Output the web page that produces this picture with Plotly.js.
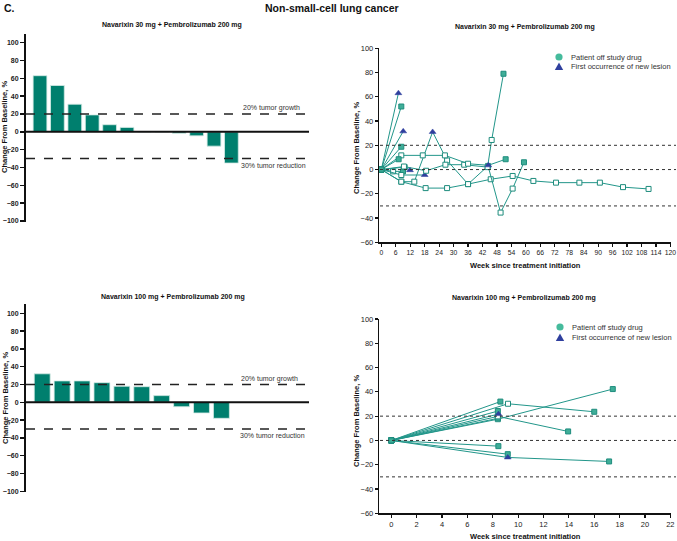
<!DOCTYPE html>
<html>
<head>
<meta charset="utf-8">
<script src="https://cdn.plot.ly/plotly-3.0.1.min.js"></script>
<style>html,body{margin:0;padding:0;background:#fff}#chart{width:677px;height:541px}</style>
</head>
<body>
<div id="chart"></div>
<script>
// ---------------- DATA ----------------
const mainTitle = "Non-small-cell lung cancer";
const panelLabel = "C.";
const title30 = "Navarixin 30 mg + Pembrolizumab 200 mg";
const title100 = "Navarixin 100 mg + Pembrolizumab 200 mg";
const yTitle = "Change From Baseline, %";
const xTitle = "Week since treatment initiation";
const legendOff = "Patient off study drug";
const legendLesion = "First occurrence of new lesion";
const growthLabel = "20% tumor growth";
const reductionLabel = "30% tumor reduction";
const growthLevel = 20;
const reductionLevel = -30;

// Waterfall: best % change per patient
const waterfall30 = [63, 52, 31, 19, 8, 5, 0, 0, -1.5, -4.5, -16, -35];
const waterfall100 = [32, 24, 24, 22, 18, 17.5, 7.5, -5, -12, -18];
const waterfallTicks = [-100, -80, -60, -40, -20, 0, 20, 40, 60, 80, 100];

// Spider 30 mg: weeks, values, point codes (f = off study drug, o = on drug, t = new lesion)
const s30_p1_w = [0, 7.1];  const s30_p1_v = [0, 63];  const s30_p1_c = ['f','t'];
const s30_p2_w = [0, 8.3];  const s30_p2_v = [0, 52];  const s30_p2_c = ['f','f'];
const s30_p3_w = [0, 9.1];  const s30_p3_v = [0, 31.5]; const s30_p3_c = ['f','t'];
const s30_p4_w = [0, 8.3];  const s30_p4_v = [0, 18.8]; const s30_p4_c = ['f','f'];
const s30_p5_w = [0, 7.2];  const s30_p5_v = [0, 8.5];  const s30_p5_c = ['f','f'];
const s30_p6_w = [0, 8.3, 17.2, 26.4, 36, 44.4, 51.6];
const s30_p6_v = [0, 11.7, 11.7, 11.7, 4.8, 3.5, 8.5];
const s30_p6_c = ['f','o','o','o','o','t','f'];
const s30_p7_w = [0, 9.4, 18.6, 26.6, 34.4, 44.1, 45.8, 50.7];
const s30_p7_v = [0, 2.5, -1, 4, 4, 2, 24.4, 79];
const s30_p7_c = ['f','o','o','o','o','o','o','f'];
const s30_p8_w = [0, 9.7, 11.9]; const s30_p8_v = [0, 2, -0.5]; const s30_p8_c = ['f','o','t'];
const s30_p9_w = [0, 8.3, 18.0]; const s30_p9_v = [0, -4.5, -4.5]; const s30_p9_c = ['f','o','t'];
const s30_p10_w = [0, 4.9, 9.0]; const s30_p10_v = [0, -1.5, -1.5]; const s30_p10_c = ['f','o','f'];
const s30_p11_w = [0, 8.3, 13.7, 21.3, 27.3, 36, 44.3, 49.5, 54.5, 59.2];
const s30_p11_v = [0, -10, -10, 31, 7.5, -12, 3, -35.5, -15.7, 6];
const s30_p11_c = ['f','o','o','t','o','o','o','o','o','f'];
const s30_p12_w = [0, 8.3, 18.4, 27.3, 36, 45.4, 54.5, 63.1, 72.5, 82.2, 90.7, 100.3, 110.9];
const s30_p12_v = [0, -10, -15.3, -15.3, -12, -8, -5.3, -9.4, -10.8, -10.8, -10.8, -14.5, -16];
const s30_p12_c = ['f','o','o','o','o','o','o','o','o','o','o','o','o'];

// Spider 100 mg
const s100_p1_w = [0, 8.6];  const s100_p1_v = [0, 32];  const s100_p1_c = ['f','f'];
const s100_p2_w = [0, 9.2, 16.0]; const s100_p2_v = [0, 30.2, 23.6]; const s100_p2_c = ['f','o','f'];
const s100_p3_w = [0, 8.4];  const s100_p3_v = [0, 24.2]; const s100_p3_c = ['f','f'];
const s100_p4_w = [0, 8.45]; const s100_p4_v = [0, 21.7]; const s100_p4_c = ['f','t'];
const s100_p5_w = [0, 8.4, 17.46]; const s100_p5_v = [0, 17.5, 42.3]; const s100_p5_c = ['f','o','f'];
const s100_p6_w = [0, 8.4];  const s100_p6_v = [0, 18.2]; const s100_p6_c = ['f','f'];
const s100_p7_w = [0, 8.4, 13.94]; const s100_p7_v = [0, 19.8, 7.4]; const s100_p7_c = ['f','o','f'];
const s100_p8_w = [0, 8.44]; const s100_p8_v = [0, -4.7]; const s100_p8_c = ['f','f'];
const s100_p9_w = [0, 9.18]; const s100_p9_v = [0, -11.3]; const s100_p9_c = ['f','f'];
const s100_p10_w = [0, 9.18, 17.17]; const s100_p10_v = [0, -14, -17.3]; const s100_p10_c = ['f','t','f'];

// ---------------- STYLE ----------------
const W = 677, H = 541;
const px = x => x / W;
const py = y => 1 - y / H;
const BAR = '#007f6e';
const LINE = '#22968a';
const EDGE = '#1e8c7d';
const FILL = '#3fae98';
const TRI = '#2f3f9e';
const LEGEND_DOT = '#45bb9c';
const FONT = 'Liberation Sans, Arial, sans-serif';

function spider(w, v, c, xa, ya) {
  return {
    type: 'scatter', mode: 'lines+markers', x: w, y: v, xaxis: xa, yaxis: ya,
    line: {color: LINE, width: 1},
    marker: {
      symbol: c.map(k => k === 't' ? 'triangle-up' : 'square'),
      size: c.map(k => k === 't' ? 6 : 5),
      color: c.map(k => k === 't' ? TRI : (k === 'f' ? FILL : '#ffffff')),
      line: {color: c.map(k => k === 't' ? TRI : EDGE), width: c.map(k => k === 't' ? 0.5 : 1)},
      opacity: 1
    },
    cliponaxis: false, hoverinfo: 'skip', showlegend: false
  };
}

const traces = [
  {type: 'bar', x: waterfall30.map((_, i) => i + 1), y: waterfall30, xaxis: 'x', yaxis: 'y',
   width: 0.79, marker: {color: BAR, line: {color: '#d6ebe6', width: 0.8}}, showlegend: false, hoverinfo: 'skip'},
  {type: 'bar', x: waterfall100.map((_, i) => i + 1), y: waterfall100, xaxis: 'x2', yaxis: 'y2',
   width: 0.8, marker: {color: BAR, line: {color: '#d6ebe6', width: 0.8}}, showlegend: false, hoverinfo: 'skip'},
  spider(s30_p12_w, s30_p12_v, s30_p12_c, 'x3', 'y3'),
  spider(s30_p11_w, s30_p11_v, s30_p11_c, 'x3', 'y3'),
  spider(s30_p10_w, s30_p10_v, s30_p10_c, 'x3', 'y3'),
  spider(s30_p9_w, s30_p9_v, s30_p9_c, 'x3', 'y3'),
  spider(s30_p8_w, s30_p8_v, s30_p8_c, 'x3', 'y3'),
  spider(s30_p7_w, s30_p7_v, s30_p7_c, 'x3', 'y3'),
  spider(s30_p6_w, s30_p6_v, s30_p6_c, 'x3', 'y3'),
  spider(s30_p5_w, s30_p5_v, s30_p5_c, 'x3', 'y3'),
  spider(s30_p4_w, s30_p4_v, s30_p4_c, 'x3', 'y3'),
  spider(s30_p3_w, s30_p3_v, s30_p3_c, 'x3', 'y3'),
  spider(s30_p2_w, s30_p2_v, s30_p2_c, 'x3', 'y3'),
  spider(s30_p1_w, s30_p1_v, s30_p1_c, 'x3', 'y3'),
  spider(s100_p1_w, s100_p1_v, s100_p1_c, 'x4', 'y4'),
  spider(s100_p2_w, s100_p2_v, s100_p2_c, 'x4', 'y4'),
  spider(s100_p3_w, s100_p3_v, s100_p3_c, 'x4', 'y4'),
  spider(s100_p5_w, s100_p5_v, s100_p5_c, 'x4', 'y4'),
  spider(s100_p6_w, s100_p6_v, s100_p6_c, 'x4', 'y4'),
  spider(s100_p7_w, s100_p7_v, s100_p7_c, 'x4', 'y4'),
  spider(s100_p4_w, s100_p4_v, s100_p4_c, 'x4', 'y4'),
  spider(s100_p8_w, s100_p8_v, s100_p8_c, 'x4', 'y4'),
  spider(s100_p9_w, s100_p9_v, s100_p9_c, 'x4', 'y4'),
  spider(s100_p10_w, s100_p10_v, s100_p10_c, 'x4', 'y4')
];

const wfY = (dom, top) => ({
  domain: dom, range: [-101, top], tickvals: waterfallTicks, showgrid: false, zeroline: false,
  showline: true, linewidth: 2, linecolor: '#111', ticks: 'outside', ticklen: 4, tickwidth: 1.5, tickcolor: '#111',
  tickfont: {family: FONT, size: 7, color: '#222', weight: 'bold'}, fixedrange: true
});
const spY = (dom, anchor) => ({
  domain: dom, range: [-60, 100], dtick: 20, showgrid: false, zeroline: false, anchor: anchor,
  showline: true, linewidth: 1.5, linecolor: '#111', ticks: 'outside', ticklen: 3, tickwidth: 1.2, tickcolor: '#111',
  tickfont: {family: FONT, size: 7.5, color: '#222'}
});
const spX = (dom, range, dtick, anchor, fs) => ({
  domain: dom, range: range, dtick: dtick, tick0: 0, tickangle: 0, showgrid: false, zeroline: false, anchor: anchor,
  showline: true, linewidth: 1.5, linecolor: '#111', ticks: 'outside', ticklen: 3, tickwidth: 1.2, tickcolor: '#111',
  tickfont: {family: FONT, size: fs, color: '#222'}
});

const shapes = [];
function hline(yref, y, x0, x1, dash, width, color) {
  shapes.push({type: 'line', xref: 'paper', yref: yref, x0: px(x0), x1: px(x1), y0: y, y1: y,
    line: {color: color, width: width, dash: dash}});
}
// waterfalls
hline('y', 0, 26, 309, 'solid', 2, '#111');
hline('y', growthLevel, 26, 307, 'dash', 1.5, '#222');
hline('y', reductionLevel, 26, 307, 'dash', 1.5, '#222');
hline('y2', 0, 26, 309, 'solid', 2, '#111');
hline('y2', growthLevel, 26, 307, 'dash', 1.5, '#222');
hline('y2', reductionLevel, 26, 307, 'dash', 1.5, '#222');
// spiders
[['y3'], ['y4']].forEach(([r]) => {
  hline(r, growthLevel, 380, 676, 'dot', 1, '#333');
  hline(r, 0, 380, 676, 'dot', 1, '#333');
  hline(r, reductionLevel, 380, 676, 'dot', 1, '#333');
});
// legend keys
function legendKeys(cx, cyDot, cyTri) {
  shapes.push({type: 'circle', xref: 'paper', yref: 'paper', xsizemode: 'pixel', ysizemode: 'pixel',
    xanchor: px(cx), yanchor: py(cyDot), x0: -3.6, x1: 3.6, y0: -3.6, y1: 3.6,
    fillcolor: LEGEND_DOT, line: {width: 0}});
  shapes.push({type: 'path', xref: 'paper', yref: 'paper', xsizemode: 'pixel', ysizemode: 'pixel',
    xanchor: px(cx), yanchor: py(cyTri), path: 'M-4.2,-3.4 L4.2,-3.4 L0,4 Z',
    fillcolor: TRI, line: {width: 0}});
}
legendKeys(559, 57, 66.5);
legendKeys(560, 327, 337.5);

const ann = [];
function text(t, x, y, opts) {
  ann.push(Object.assign({text: t, xref: 'paper', yref: 'paper', x: px(x), y: py(y), showarrow: false,
    xanchor: 'center', yanchor: 'middle', font: {family: FONT, size: 7.5, color: '#222'}}, opts || {}));
}
text(panelLabel, 2, 8, {xanchor: 'left', font: {family: FONT, size: 10.5, color: '#111', weight: 'bold'}});
text(mainTitle, 332, 8, {font: {family: FONT, size: 10.5, color: '#111', weight: 'bold'}});
text(title30, 172, 25, {font: {family: FONT, size: 7, color: '#111', weight: 'bold'}});
text(title30, 525, 27, {font: {family: FONT, size: 7, color: '#111', weight: 'bold'}});
text(title100, 173, 297, {font: {family: FONT, size: 7, color: '#111', weight: 'bold'}});
text(title100, 524, 298, {font: {family: FONT, size: 7, color: '#111', weight: 'bold'}});
text(yTitle, 5, 127, {textangle: -90, font: {family: FONT, size: 7.5, color: '#111', weight: 'bold'}});
text(yTitle, 5, 398, {textangle: -90, font: {family: FONT, size: 7.5, color: '#111', weight: 'bold'}});
text(yTitle, 356, 148, {textangle: -90, font: {family: FONT, size: 7.5, color: '#111', weight: 'bold'}});
text(yTitle, 356, 421, {textangle: -90, font: {family: FONT, size: 7.5, color: '#111', weight: 'bold'}});
text(xTitle, 525, 265, {font: {family: FONT, size: 7.5, color: '#111', weight: 'bold'}});
text(xTitle, 525, 536, {font: {family: FONT, size: 7.5, color: '#111', weight: 'bold'}});
text(growthLabel, 302, 108.5, {xanchor: 'right', font: {family: FONT, size: 7, color: '#333'}});
text(reductionLabel, 307.5, 165, {xanchor: 'right', font: {family: FONT, size: 7, color: '#333'}});
text(growthLabel, 300, 379, {xanchor: 'right', font: {family: FONT, size: 7, color: '#333'}});
text(reductionLabel, 306.5, 435.5, {xanchor: 'right', font: {family: FONT, size: 7, color: '#333'}});
text(legendOff, 569, 57, {xanchor: 'left', font: {family: FONT, size: 7.5, color: '#333'}});
text(legendLesion, 569, 66.5, {xanchor: 'left', font: {family: FONT, size: 7.5, color: '#333'}});
text(legendOff, 570, 327, {xanchor: 'left', font: {family: FONT, size: 7.5, color: '#333'}});
text(legendLesion, 570, 337.5, {xanchor: 'left', font: {family: FONT, size: 7.5, color: '#333'}});

const layout = {
  width: W, height: H, margin: {l: 0, r: 0, t: 0, b: 0},
  paper_bgcolor: '#ffffff', plot_bgcolor: 'rgba(0,0,0,0)',
  showlegend: false, bargap: 0.2,
  xaxis: {domain: [px(26), px(309)], range: [0.195, 16.46], visible: false, anchor: 'y', fixedrange: true},
  yaxis: Object.assign(wfY([py(221.9), py(33.8)], 110), {anchor: 'x'}),
  xaxis2: {domain: [px(26), px(309)], range: [0.186, 14.4], visible: false, anchor: 'y2', fixedrange: true},
  yaxis2: Object.assign(wfY([py(492.2), py(304)], 110.4), {anchor: 'x2'}),
  xaxis3: spX([px(379.3), px(671.2)], [-0.83, 120.3], 6, 'y3', 6.8),
  yaxis3: spY([py(242.3), py(48.3)], 'x3'),
  xaxis4: spX([px(379.3), px(671)], [-0.946, 22.05], 2, 'y4', 7.5),
  yaxis4: spY([py(513.3), py(319)], 'x4'),
  shapes: shapes,
  annotations: ann
};

Plotly.newPlot('chart', traces, layout, {displayModeBar: false, staticPlot: true});
</script>
</body>
</html>
